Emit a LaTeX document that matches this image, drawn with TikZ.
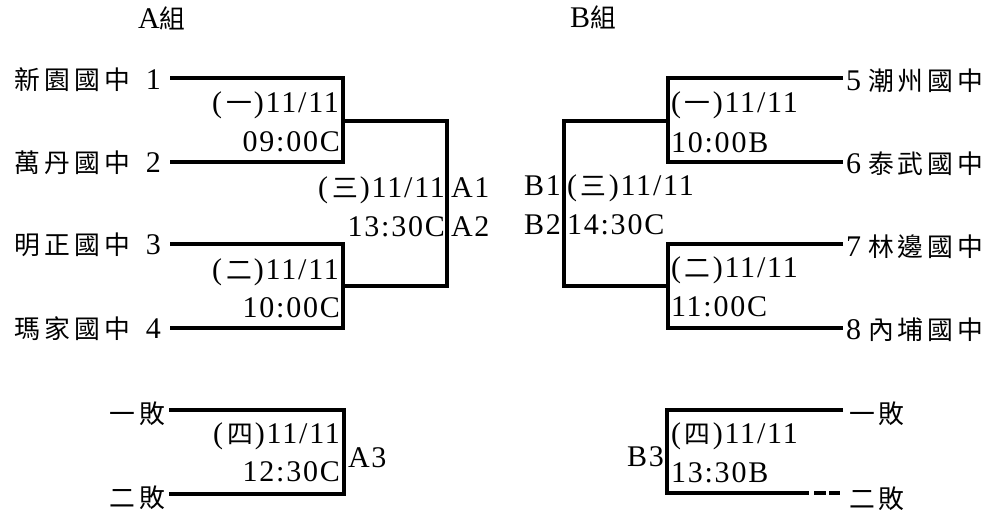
\documentclass[tikz,border=0pt]{standalone}
\usepackage{fontspec}
\setmainfont[LetterSpace=6]{Liberation Serif}
\newfontfamily\cjkf[Scale=0.86,LetterSpace=16]{Noto Sans CJK TC}
\newcommand\cj[1]{{\cjkf #1}}
\newcommand\pn[1]{(\kern4pt\cj{#1}\kern2pt)}
\begin{document}
\begin{tikzpicture}[x=1pt,y=-1pt,
  every node/.style={inner sep=0pt,outer sep=0pt,font=\fontsize{30}{36}\selectfont},
  br/.style={line width=3.6pt,line join=miter},
  lr/.style={anchor=base east},
  ll/.style={anchor=base west}]
\fill[white] (0,0) rectangle (1004,510);
\useasboundingbox (0,0) rectangle (1004,510);

% group titles
\node[ll] (ga) at (138,29) {A\cj{組}};
\node[ll] (gb) at (570,28) {B\cj{組}};

% ---------- A group ----------
\node[lr] (t1) at (161,90) {\cj{新園國中}\hspace{16pt}1};
\node[lr] (t2) at (161,173) {\cj{萬丹國中}\hspace{16pt}2};
\node[lr] (t3) at (161,255) {\cj{明正國中}\hspace{16pt}3};
\node[lr] (t4) at (161,339) {\cj{瑪家國中}\hspace{16pt}4};

\coordinate (a1) at (170,78);
\coordinate (a2) at (170,162);
\coordinate (a3) at (170,244);
\coordinate (a4) at (170,328);
\coordinate (am1) at (343,121);
\coordinate (am2) at (343,286);
\coordinate (af) at (447,121);

\draw[br] (a1) -| (am1) |- (a2);
\draw[br] (a3) -| (am2) |- (a4);
\draw[br] (am1) -| (af) |- (am2);

\node[lr] (g1d) at (339,113) {\pn{一}11/11};
\node[lr] (g1t) at (340,152) {09:00C};
\node[lr] (g2d) at (339,280) {\pn{二}11/11};
\node[lr] (g2t) at (340,318) {10:00C};
\node[lr] (g3d) at (445,198) {\pn{三}11/11};
\node[lr] (g3t) at (445,237) {13:30C};
\node[ll] (lA1) at (451,198) {A1};
\node[ll] (lA2) at (451,237) {A2};

% ---------- B group ----------
\node[ll] (t5) at (846,91) {5\hspace{7pt}\cj{潮州國中}};
\node[ll] (t6) at (846,174) {6\hspace{7pt}\cj{泰武國中}};
\node[ll] (t7) at (846,257) {7\hspace{7pt}\cj{林邊國中}};
\node[ll] (t8) at (846,340) {8\hspace{7pt}\cj{內埔國中}};

\coordinate (b1) at (843,78);
\coordinate (b2) at (843,162);
\coordinate (b3) at (843,244);
\coordinate (b4) at (843,328);
\coordinate (bm1) at (668,121);
\coordinate (bm2) at (668,286);
\coordinate (bf) at (564,121);

\draw[br] (b1) -| (bm1) |- (b2);
\draw[br] (b3) -| (bm2) |- (b4);
\draw[br] (bm1) -| (bf) |- (bm2);

\node[ll] (h1d) at (671,113) {\pn{一}11/11};
\node[ll] (h1t) at (671,153) {10:00B};
\node[ll] (h2d) at (671,278) {\pn{二}11/11};
\node[ll] (h2t) at (671,317) {11:00C};
\node[ll] (h3d) at (567,196) {\pn{三}11/11};
\node[ll] (h3t) at (567,235) {14:30C};
\node[lr] (lB1) at (561,196) {B1};
\node[lr] (lB2) at (561,235) {B2};

% ---------- third place A ----------
\node[anchor=east] (al1) at (165,414) {\cj{一敗}};
\node[anchor=east] (al2) at (165,498) {\cj{二敗}};
\coordinate (c1) at (169,410);
\coordinate (c2) at (169,494);
\coordinate (cv) at (344,452);
\draw[br] (c1) -| (cv) |- (c2);
\node[lr] (g4d) at (340,443) {\pn{四}11/11};
\node[lr] (g4t) at (340,481) {12:30C};
\node[ll] (lA3) at (348,467) {A3};

% ---------- third place B ----------
\node[anchor=west] (bl1) at (849,414) {\cj{一敗}};
\node[anchor=west] (bl2) at (849,499) {\cj{二敗}};
\coordinate (d1) at (843,410);
\coordinate (dv) at (667,452);
\coordinate (d2) at (809,493);
\coordinate (d3) at (814,493);
\coordinate (d4) at (840,493);
\draw[br] (d1) -| (dv) |- (d2);
\draw[br,dash pattern=on 12pt off 3pt] (d3) -- (d4);
\node[ll] (h4d) at (671,443) {\pn{四}11/11};
\node[ll] (h4t) at (671,482) {13:30B};
\node[lr] (lB3) at (664,466) {B3};
\end{tikzpicture}
\end{document}
